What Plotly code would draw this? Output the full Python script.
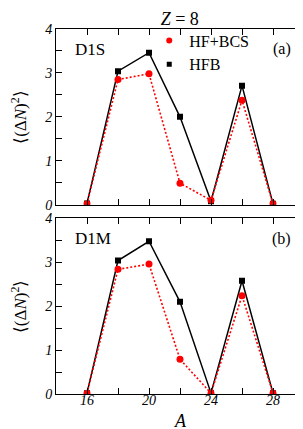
import plotly.graph_objects as go
from plotly.subplots import make_subplots

A = [16, 18, 20, 22, 24, 26, 28]
hfb_d1s = [0.03, 3.04, 3.46, 2.00, 0.08, 2.71, 0.02]
bcs_d1s = [0.02, 2.85, 2.98, 0.49, 0.10, 2.38, 0.02]
hfb_d1m = [0.02, 3.04, 3.48, 2.10, 0.02, 2.58, 0.02]
bcs_d1m = [0.02, 2.84, 2.96, 0.79, 0.02, 2.24, 0.02]
panel_names = ["D1S", "D1M"]
panel_tags = ["(a)", "(b)"]
y_title = "⟨(Δ<i>N</i>)<sup>2</sup>⟩"

SERIF = "Liberation Serif"
RED = "#ff0000"

fig = make_subplots(rows=2, cols=1, shared_xaxes=False, vertical_spacing=0.037)

for row, (hfb, bcs) in enumerate([(hfb_d1s, bcs_d1s), (hfb_d1m, bcs_d1m)], start=1):
    fig.add_trace(go.Scatter(x=A, y=hfb, mode="lines+markers",
                             line=dict(color="black", width=1.5),
                             marker=dict(symbol="square", size=6, color="black"),
                             showlegend=False), row=row, col=1)
    fig.add_trace(go.Scatter(x=A, y=bcs, mode="lines+markers",
                             line=dict(color=RED, width=1.6, dash="2px,2px"),
                             marker=dict(symbol="circle", size=7, color=RED),
                             showlegend=False), row=row, col=1)

# legend keys
fig.add_trace(go.Scatter(x=[None], y=[None], mode="markers", name="HF+BCS",
                         marker=dict(symbol="circle", size=6, color=RED)), row=1, col=1)
fig.add_trace(go.Scatter(x=[None], y=[None], mode="markers", name="HFB",
                         marker=dict(symbol="square", size=5, color="black")), row=1, col=1)

axis_common = dict(range=[14, 30], showline=True, linecolor="black", linewidth=1,
                   mirror="allticks", ticks="inside", ticklen=6, tickcolor="black",
                   tick0=0, dtick=4, showgrid=False, zeroline=False,
                   minor=dict(dtick=2, ticks="inside", ticklen=6, tickcolor="black", showgrid=False),
                   tickfont=dict(family=SERIF, size=14, color="black", style="italic"))
yaxis_common = dict(range=[0, 4], showline=True, linecolor="black", linewidth=1,
                    mirror="allticks", ticks="inside", ticklen=6, tickcolor="black",
                    tick0=0, dtick=1, showgrid=False, zeroline=False,
                    minor=dict(dtick=0.5, ticks="inside", ticklen=6, tickcolor="black", showgrid=False),
                    tickfont=dict(family=SERIF, size=14, color="black", style="italic"))

fig.update_xaxes(**axis_common)
fig.update_xaxes(showticklabels=False, row=1, col=1)
fig.update_xaxes(ticklabelstandoff=-7, row=2, col=1)
fig.update_yaxes(**yaxis_common)
fig.update_yaxes(domain=[0.5186, 1.0], row=1, col=1)
fig.update_yaxes(domain=[0.0, 0.481], row=2, col=1)

for i, (nm, tag) in enumerate(zip(panel_names, panel_tags)):
    yref = "y domain" if i == 0 else "y2 domain"
    xref = "x domain" if i == 0 else "x2 domain"
    fig.add_annotation(text=nm, x=0.07, y=0.885, xref=xref, yref=yref,
                       xanchor="left", yanchor="middle", showarrow=False,
                       font=dict(family=SERIF, size=17, color="black"))
    fig.add_annotation(text=tag, x=0.955, y=0.885, xref=xref, yref=yref,
                       xanchor="right", yanchor="middle", showarrow=False,
                       font=dict(family=SERIF, size=16, color="black"))
    # y-axis title
    fig.add_annotation(text=y_title, x=0, y=0.5, xref="paper", yref=yref,
                       xanchor="center", yanchor="middle", xshift=-37, textangle=-90,
                       showarrow=False, font=dict(family=SERIF, size=17, color="black"))

# x-axis title "A"
fig.add_annotation(text="<i>A</i>", x=0.5, y=0, xref="x2 domain", yref="paper",
                   xanchor="center", yanchor="bottom", yshift=-39, showarrow=False,
                   font=dict(family=SERIF, size=18, color="black"))

fig.update_layout(
    width=303, height=429,
    margin=dict(l=48, r=7, t=21, b=43),
    paper_bgcolor="white", plot_bgcolor="white",
    title=dict(text="<i>Z</i> = 8", x=0.567, xanchor="center", xref="container",
               yref="container", y=0.976, yanchor="middle",
               font=dict(family=SERIF, size=18, color="black")),
    legend=dict(x=0.376, y=1.015, xanchor="left", yanchor="top",
                bgcolor="rgba(0,0,0,0)", borderwidth=0, itemwidth=30,
                tracegroupgap=0,
                font=dict(family=SERIF, size=16, color="black")),
    font=dict(family=SERIF, color="black"),
)

fig.write_html("out.html")
